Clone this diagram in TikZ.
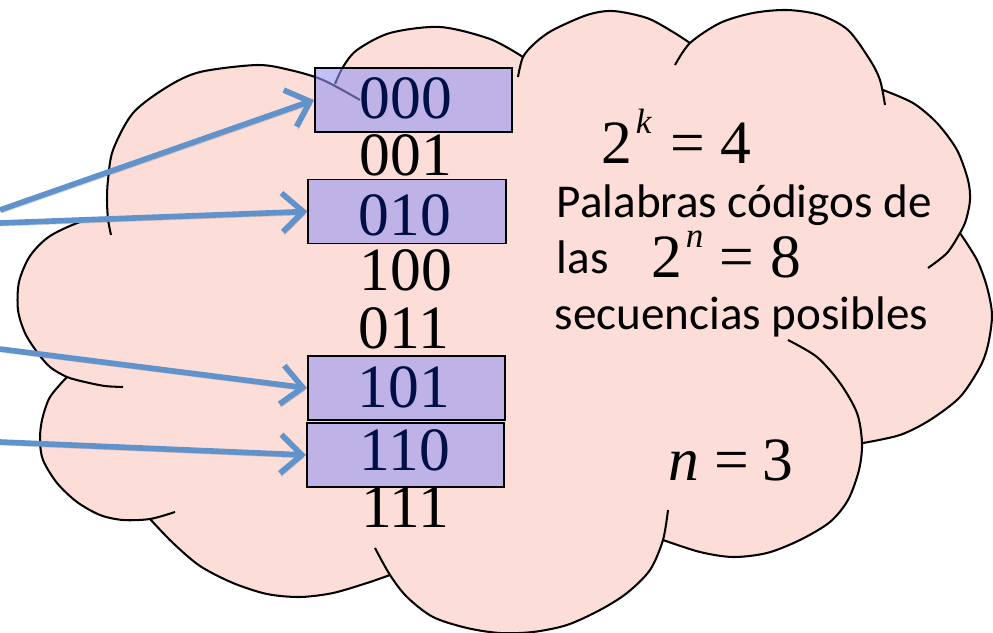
\documentclass[tikz,border=0pt]{standalone}
\usepackage{fontspec}
\setmainfont{Liberation Serif}
\newfontfamily\calibri{Carlito}
\usepackage{xcolor}
\usetikzlibrary{arrows.meta}

\definecolor{nube}{RGB}{252,221,216}
\definecolor{caja}{RGB}{150,150,240}
\definecolor{azul}{RGB}{96,146,204}
\definecolor{tinta}{RGB}{0,15,70}

\tikzset{
  codebox/.style={draw=black, line width=0.55pt, fill=caja, fill opacity=0.6,
    minimum width=1.97cm, minimum height=0.64cm, inner sep=0pt},
  word/.style={anchor=base, inner sep=0pt, font=\fontsize{17.5}{17.5}\selectfont},
  eq/.style={anchor=base west, inner sep=0pt, font=\fontsize{17.5}{17.5}\selectfont},
  texto/.style={anchor=base west, inner sep=0pt, font=\calibri\fontsize{13.4}{13.4}\selectfont},
  edge/.style={black, line width=0.58pt},
  arr/.style={azul, line width=1.6pt, -{Straight Barb[length=6pt,width=11pt]},
    preaction={draw=black, draw opacity=0.15, transform canvas={shift={(0.4pt,-0.8pt)}}}},
}

\begin{document}
\begin{tikzpicture}[x=0.01cm, y=-0.01cm]
\useasboundingbox (0,0) rectangle (993,633);

% 云的填充
\fill[nube] plot[smooth] coordinates {(108,219) (107,200) (108,180) (113,150) (133,113) (167,87) (200,72) (257,65) (290,70) (323,80) (335,86)}
  -- plot[smooth] coordinates {(335,84) (343,67) (357,50) (390,33) (440,27) (490,39) (523,57)}
  -- plot[smooth] coordinates {(523,57) (535,43) (553,30) (587,15) (613,11) (647,18) (673,32) (690,43)}
  -- plot[smooth] coordinates {(690,43) (720,23) (753,13) (787,10) (820,15) (848,30) (870,60) (883,90)}
  -- plot[smooth] coordinates {(883,90) (913,103) (937,123) (957,150) (968,180) (970,200) (966,220) (960,233)}
  -- plot[smooth] coordinates {(960,233) (977,260) (987,287) (992,315) (988,345) (980,367) (960,397) (930,420) (900,435) (863,443)}
  -- plot[smooth] coordinates {(862,443) (859,470) (848,500) (830,522) (800,540) (767,553) (733,557) (700,552) (663,540)}
  -- plot[smooth] coordinates {(663,540) (650,570) (627,593) (600,610) (567,625) (533,632) (500,633) (467,628) (433,617) (407,597) (390,575)}
  -- plot[smooth] coordinates {(390,575) (367,583) (333,593) (300,597) (267,594) (233,583) (200,566) (173,543) (150,519)}
  -- plot[smooth] coordinates {(150,519) (123,520) (100,515) (77,502) (57,483) (43,460) (40,440) (42,420) (50,397) (67,377)}
  -- plot[smooth] coordinates {(67,377) (50,367) (37,352) (25,333) (18,310) (19,282) (30,256) (50,236) (83,221) (108,219)}
  -- cycle;

% 云的轮廓 (每个弧单独画, 带内部的小尾巴)
\draw[edge] plot[smooth] coordinates {(123,387) (105,386) (85,382) (67,377) (50,367) (37,352) (25,333) (18,310) (19,282) (30,256) (50,236) (83,221) (108,219)};
\draw[edge] plot[smooth] coordinates {(111,235) (108,219) (107,200) (108,180) (113,150) (133,113) (167,87) (200,72) (257,65) (290,70) (323,80) (360,100)};
\draw[edge] plot[smooth] coordinates {(335,84) (343,67) (357,50) (390,33) (440,27) (490,39) (523,57)};
\draw[edge] plot[smooth] coordinates {(518,77) (523,57) (535,43) (553,30) (587,15) (613,11) (647,18) (673,32) (690,43)};
\draw[edge] plot[smooth] coordinates {(675,65) (690,43) (720,23) (753,13) (787,10) (820,15) (848,30) (870,60) (880,80) (885,105)};
\draw[edge] plot[smooth] coordinates {(883,90) (913,103) (937,123) (957,150) (968,180) (970,200) (966,220) (960,233) (947,253) (928,268)};
\draw[edge] plot[smooth] coordinates {(960,233) (977,260) (987,287) (992,315) (988,345) (980,367) (960,397) (930,420) (900,435) (863,443)};
\draw[edge] plot[smooth] coordinates {(788,340) (817,357) (840,383) (857,413) (862,443) (859,470) (848,500) (830,522) (800,540) (767,553) (733,557) (700,552) (663,540)};
\draw[edge] plot[smooth] coordinates {(668,510) (663,540) (650,570) (627,593) (600,610) (567,625) (533,632) (500,633) (467,628) (433,617) (407,597) (390,575) (375,548)};
\draw[edge] plot[smooth] coordinates {(150,519) (173,543) (200,566) (233,583) (267,594) (300,597) (333,593) (367,583) (390,575)};
\draw[edge] plot[smooth] coordinates {(67,377) (50,397) (42,420) (40,440) (43,460) (57,483) (77,502) (100,515) (123,520) (150,519) (175,512)};

% 码字方框
\node[codebox] (c000) at (413.5,100) {};
\node[codebox] (c010) at (407,211.5) {};
\node[codebox] (c101) at (406.5,388) {};
\node[codebox] (c110) at (405.5,455) {};

% 八个序列
\node[word, tinta] (w000) at (406,118) {000};
\node[word] (w001) at (406,175) {001};
\node[word, tinta] (w010) at (405,235) {010};
\node[word] (w100) at (406,290) {100};
\node[word] (w011) at (404,348) {011};
\node[word, tinta] (w101) at (404,407) {101};
\node[word, tinta] (w110) at (405,470) {110};
\node[word] (w111) at (405,527) {111};

% 右边的说明
\node[eq] (pk) at (601,163) {2\hspace{1pt}\raisebox{8.5pt}{\fontsize{10}{10}\selectfont\itshape k}\hspace{5.5pt}=\hspace{4.3pt}4};
\node[texto] (t1) at (556,217) {Palabras códigos de};
\node[texto] (t2) at (556,273) {las};
\node[eq] (pn) at (651,277) {2\hspace{1pt}\raisebox{8.3pt}{\fontsize{10}{10}\selectfont\itshape n}\hspace{4.6pt}=\hspace{4.6pt}8};
\node[texto] (t3) at (554,329) {secuencias posibles};
\node[eq] (nn) at (668,480) {\itshape n\upshape\hspace{4.2pt}=\hspace{4pt}3};

% 箭头
\coordinate (s1) at (0,210);
\coordinate (s2) at (0,223);
\coordinate (s3) at (0,349);
\coordinate (s4) at (0,442);
\draw[arr] (s1) -- (c000.west);
\draw[arr] (s2) -- (c010.west);
\draw[arr] (s3) -- (c101.west);
\draw[arr] (s4) -- (c110.west);
\end{tikzpicture}
\end{document}
